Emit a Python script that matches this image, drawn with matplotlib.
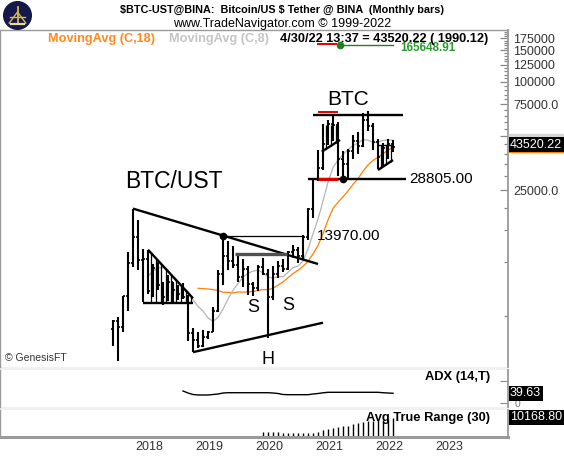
import matplotlib
matplotlib.use('Agg')
import matplotlib.pyplot as plt
import numpy as np
import pandas as pd
from matplotlib.patches import Rectangle, Circle
from matplotlib.ticker import FixedLocator, NullFormatter

plt.rcParams['font.family'] = ['Liberation Sans', 'DejaVu Sans']

# monthly bars BTC/USDT @ Binance, Aug 2017 .. Apr 2022
# x = months counted from Jan 2018
first_month = -5
opens = [4261, 4689, 4378, 6463, 9838,
         13716, 10285, 10326, 6922, 9246, 7500, 6391, 7735, 7011, 6626, 6370, 4041,
         3701, 3434, 3814, 4102, 5321, 8575, 10817, 10086, 9590, 8289, 9140, 7541,
         7195, 9352, 8523, 6412, 8620, 9448, 9138, 11335, 11649, 10776, 13791, 19695,
         28923, 33092, 45134, 58739, 57697, 37254, 35046, 41461, 47100, 43820, 61300, 56951,
         46216, 38466, 43160, 45510]
highs = [4745, 4939, 6470, 11300, 19798,
         17176, 11786, 11700, 9759, 10020, 7754, 8507, 7750, 7410, 7680, 6585, 4312,
         4069, 4198, 4140, 5600, 9074, 13970, 13147, 12325, 10905, 10370, 9513, 7750,
         9578, 10500, 9189, 9468, 10067, 10380, 11444, 12468, 12050, 14100, 19863, 29300,
         41950, 58352, 61844, 64854, 59592, 41330, 42448, 50500, 52920, 67000, 69000, 59054,
         47990, 45821, 48189, 47444]
lows = [3400, 2817, 4110, 5325, 9380,
        9035, 6000, 6600, 6430, 7032, 5750, 6070, 5880, 6111, 6200, 3652, 3156,
        3349, 3373, 3733, 4067, 5304, 7444, 9071, 9320, 7710, 7300, 6515, 6435,
        6871, 8450, 3782, 6150, 8117, 8833, 8977, 10518, 9825, 10375, 13195, 17572,
        28130, 32296, 44950, 47044, 30000, 28805, 29278, 37332, 39600, 43283, 53256, 42000,
        32917, 34322, 37155, 40600]
closes = [4724, 4378, 6463, 9838, 13716,
          10285, 10326, 6923, 9246, 7494, 6391, 7730, 7011, 6626, 6371, 4041, 3702,
          3434, 3814, 4103, 5320, 8574, 10817, 10086, 9590, 8289, 9140, 7541, 7195,
          9352, 8523, 6411, 8620, 9448, 9138, 11335, 11649, 10776, 13791, 19695, 28923,
          33092, 45135, 58740, 57694, 37253, 35045, 41462, 47100, 43824, 61300, 56950, 46216,
          38466, 43160, 45510, 43520.22]

# ADX(14) from Oct 2018, ATR(30) from Feb 2020
adx_first = 9
adx = [49, 40.8, 34.7, 32.7, 32.7, 32.7, 34.7, 36.7, 40.8,
       42, 42, 42, 42, 42, 42, 42, 42, 42,
       40.8, 38.8, 34.7, 33.9, 33.9, 33.9, 33.9, 33.9, 36.7, 38.8, 41.6,
       43.7, 43.7, 43.7, 43.7, 43.7, 43.7, 43.7, 43.7, 43.7, 43.7, 43.7,
       42, 40.8, 39.63]
atr_first = 25
atr = [2720, 2720, 2720, 2720, 1995, 1995, 1995, 1995, 1995, 1995,
       2357, 2900, 3626, 4170, 4715, 5440, 5802, 6165, 6890, 7435,
       7980, 8525, 8887, 9250, 9430, 9610, 10168.8]

years = [2018, 2019, 2020, 2021, 2022, 2023]
price_ticks = [25000, 50000, 75000, 100000, 125000, 150000, 175000]
price_labels = ['25000.0', '', '75000.0', '100000', '125000', '150000', '175000']

# drawings on the chart, (month, price)
upper_trend = [(-1, 19798), (36, 9750)]
lower_trend = [(11, 3156), (37, 4600)]
tri_2018_top = [(2, 11700), (11, 6285)]
tri_2018_base = [(1, 5950), (11, 5950)]
high_2019 = [(17, 13970), (33, 13970)]
box_2019 = [(19.4, 11040), (29.7, 11040)]
btc_top = [(35, 65500), (53, 65500)]
btc_base = [(34, 28805), (53.5, 28805)]
flag_2021_base = [(36.75, 41000), (40.4, 47640)]
flag_2021_top = 58000
flag_2022_top = [(48, 44670), (51, 44670)]
flag_2022_base = [(48, 32430), (51, 36870)]

x = np.arange(first_month, first_month + len(closes))
ma18 = pd.Series(closes).rolling(18).mean()
ma8 = pd.Series(closes).rolling(8).mean()

W, H = 564, 471
fig = plt.figure(figsize=(W / 100, H / 100), dpi=100)


def box(x0, y0, x1, y1):
    return [x0 / W, 1 - y1 / H, (x1 - x0) / W, (y1 - y0) / H]


def ftext(px, py, s, **kw):
    return fig.text(px / W, 1 - py / H, s, **kw)


ax = fig.add_axes(box(0, 30, 508, 367))
adx_ax = fig.add_axes(box(0, 370, 508, 407))
atr_ax = fig.add_axes(box(0, 410, 508, 437))

# light grey bands between panels
for y0 in (367, 407):
    fig.patches.append(Rectangle((0, 1 - (y0 + 3) / H), 508 / W, 3 / H,
                                 transform=fig.transFigure, color='#f0f0f0', zorder=-1))

xmin, xmax = -27.6, 74.0
for a in (ax, adx_ax, atr_ax):
    a.set_xlim(xmin, xmax)
    for s in a.spines.values():
        s.set_color('#9a9a9a')
        s.set_linewidth(1.0)
    a.spines['bottom'].set_visible(False)
    a.spines['top'].set_visible(False)
    a.spines['right'].set_linewidth(1.3)
    a.set_xticks([])
ax.spines['top'].set_visible(True)
atr_ax.spines['bottom'].set_visible(True)
atr_ax.spines['bottom'].set_linewidth(2.2)

# ---------- price panel
ax.set_yscale('log')
ax.set_ylim(10 ** (5 - 285 / 180), 10 ** (5 + 52 / 180))

ax.plot(x, ma18, color='#ff8000', lw=0.9, zorder=2)
ax.plot(x, ma8, color='#b4b4b4', lw=0.9, zorder=2)

ax.vlines(x, lows, highs, color='k', lw=1.5, zorder=3)
ax.hlines(opens, x - 0.45, x, color='k', lw=1.2, zorder=3)
ax.hlines(closes, x, x + 0.45, color='k', lw=1.2, zorder=3)


def seg(pts, **kw):
    xs, ys = zip(*pts)
    ax.plot(xs, ys, solid_capstyle='butt', **kw)


def on_line(pts, m):
    (m0, p0), (m1, p1) = pts
    t = (m - m0) / (m1 - m0)
    return 10 ** (np.log10(p0) + t * (np.log10(p1) - np.log10(p0)))


thick = dict(color='k', lw=1.7, zorder=4)
seg(upper_trend, **thick)
seg(lower_trend, **thick)
seg(tri_2018_top, **thick)
seg(tri_2018_base, **thick)
seg(btc_top, **thick)
seg(btc_base, **thick)
seg(flag_2021_base, **thick)
seg(flag_2022_top, color='k', lw=1.0, zorder=4)
seg(flag_2022_base, **thick)
seg(high_2019, color='k', lw=0.9, zorder=4)
seg(box_2019, color='#505050', lw=2.4, zorder=4)
seg([(36, 28805), (40, 28805)], color='#e00000', lw=2.2, zorder=5)
seg([(36, 68500), (40, 68500)], color='#e00000', lw=1.4, zorder=5)
ax.plot([17, 41], [13970, 28805], 'o', color='k', ms=4.5, zorder=5)

# vertical hatching inside the drawn patterns
hm = np.arange(2.5, 11, 1.0)
ax.vlines(hm, tri_2018_base[0][1], on_line(tri_2018_top, hm), color='k', lw=0.9, zorder=3)
hm = np.arange(37.5, 40.1, 1.0)
ax.vlines(hm, on_line(flag_2021_base, hm), flag_2021_top, color='k', lw=0.9, zorder=3)
hm = np.arange(48.5, 51, 1.0)
ax.vlines(hm, on_line(flag_2022_base, hm), flag_2022_top[0][1], color='k', lw=0.9, zorder=3)

ax.text(-2.6, 28000, 'BTC/UST', fontsize=16.5, va='center', ha='left')
ax.text(42, 69500 * 1.15, 'BTC', fontsize=15, va='center', ha='center')
ax.text(35.7, 13970, '13970.00', fontsize=11, va='center', ha='left')
ax.text(54.2, 28805, '28805.00', fontsize=11, va='center', ha='left')
ax.text(23, 10 ** (5 - 226 / 180), 'S', fontsize=13, va='center', ha='center')
ax.text(30, 10 ** (5 - 224 / 180), 'S', fontsize=13, va='center', ha='center')
ax.text(26, 10 ** (5 - 278 / 180), 'H', fontsize=13, va='center', ha='center', clip_on=True)

# right price scale
ax.yaxis.tick_right()
ax.yaxis.set_major_locator(FixedLocator(price_ticks))
ax.set_yticklabels(price_labels)
ax.yaxis.set_minor_locator(FixedLocator([v for v in range(5000, 195000, 5000)
                                         if v not in price_ticks]))
ax.yaxis.set_minor_formatter(NullFormatter())
ax.tick_params(axis='y', which='major', direction='in', length=6, width=0.9,
               color='#888888', labelsize=9, labelcolor='#333333', pad=4)
ax.tick_params(axis='y', which='minor', direction='in', length=3, width=0.9,
               color='#888888')

# ---------- ADX panel
adx_ax.set_ylim(-16.3, 134.7)
adx_ax.plot(np.arange(adx_first, adx_first + len(adx)), adx, color='k', lw=1.0)
adx_ax.yaxis.tick_right()
adx_ax.set_yticks([0, 91])
adx_ax.set_yticklabels(['', ''])
adx_ax.tick_params(axis='y', direction='in', length=6, color='#888888')
adx_ax.text(0.965, 0.82, 'ADX (14,T)', transform=adx_ax.transAxes, ha='right',
            va='center', fontsize=9.3, fontweight='bold')

# ---------- ATR panel
atr_ax.set_ylim(0, 27 * 544)
atr_ax.set_yticks([])
atr_ax.vlines(np.arange(atr_first, atr_first + len(atr)), 0, atr, color='k', lw=1.0)
atr_ax.text(0.965, 0.72, 'Avg True Range (30)', transform=atr_ax.transAxes, ha='right',
            va='center', fontsize=9.3, fontweight='bold')
atr_ax.set_xticks([(yr - 2018) * 12 + 2.2 for yr in years])
atr_ax.set_xticklabels([str(yr) for yr in years])
atr_ax.tick_params(axis='x', length=0, labelsize=9, labelcolor='#333333', pad=3)

# right-hand value boxes
fig.patches.append(Rectangle((509 / W, 1 - 139.5 / H), 55 / W, 6 / H,
                             transform=fig.transFigure, color='#d6d6d6', zorder=2))
ftext(510, 145, '43520.22', color='white', fontsize=9, va='center', ha='left',
      bbox=dict(boxstyle='square,pad=0.12', fc='black', ec='none'), zorder=4)
fig.lines.append(plt.Line2D([509 / W, 1], [1 - 151.5 / H] * 2, color='#ff8000', lw=1,
                            transform=fig.transFigure))
ftext(510, 393, '39.63', color='white', fontsize=9, va='center', ha='left',
      bbox=dict(boxstyle='square,pad=0.12', fc='black', ec='none'), zorder=4)
ftext(515, 404, '0', color='#777777', fontsize=7.5, va='center', ha='left', zorder=3)
ftext(510, 417.5, '10168.80', color='white', fontsize=9, va='center', ha='left',
      bbox=dict(boxstyle='square,pad=0.12', fc='black', ec='none'), zorder=4)

# ---------- header
logo = fig.add_axes(box(3, 1, 32, 30))
logo.set_xlim(-1.05, 1.05)
logo.set_ylim(-1.05, 1.05)
logo.set_aspect('equal')
logo.axis('off')
logo.add_patch(Circle((0, 0), 1, color='#14184a'))
logo.plot([0, 0], [-0.55, 0.6], color='#d9b64a', lw=1.3)
logo.plot([-0.55, 0.55], [-0.1, -0.1], color='#d9b64a', lw=1.0)
logo.plot([-0.6, 0, 0.6], [-0.55, 0.25, -0.55], color='#d9b64a', lw=1.0)
logo.plot([-0.5, 0.5], [-0.6, -0.6], color='#e8d8a0', lw=1.6)

ftext(282, 9.5, '\\$BTC-UST@BINA:  Bitcoin/US \\$ Tether @ BINA  (Monthly bars)',
      fontsize=7.8, fontweight='bold', ha='center', va='center')
ftext(282, 24.5, 'www.TradeNavigator.com \u00a9 1999-2022', fontsize=9,
      ha='center', va='center')
ftext(400.5, 48, '165648.91', fontsize=8.5, fontweight='bold', color='#2e9a2e',
      ha='left', va='center', zorder=2)
ftext(48.3, 39.3, 'MovingAvg (C,18)', fontsize=9.2, fontweight='bold', color='#ff8a1c',
      ha='left', va='center', zorder=3)
ftext(168.6, 39.3, 'MovingAvg (C,8)', fontsize=9.2, fontweight='bold', color='#c4c4c4',
      ha='left', va='center', zorder=3)
ftext(280, 39.3, '4/30/22 13:37 = 43520.22 ( 1990.12)', fontsize=9.2,
      fontweight='bold', ha='left', va='center', zorder=3)
fig.lines.append(plt.Line2D([318.3 / W, 335.7 / W], [1 - 43.5 / H] * 2, color='#e00000',
                            lw=1.4, transform=fig.transFigure))
fig.lines.append(plt.Line2D([339.7 / W, 392.7 / W], [1 - 44.5 / H] * 2, color='#208020',
                            lw=1.0, transform=fig.transFigure))
fig.lines.append(plt.Line2D([339.7 / W], [1 - 44.5 / H], marker='o', ms=4.5,
                            color='#208020', transform=fig.transFigure))
ftext(5, 358, '\u00a9 GenesisFT', fontsize=7.5, color='#333333', ha='left', va='center')

fig.savefig('out.png', dpi=100)
